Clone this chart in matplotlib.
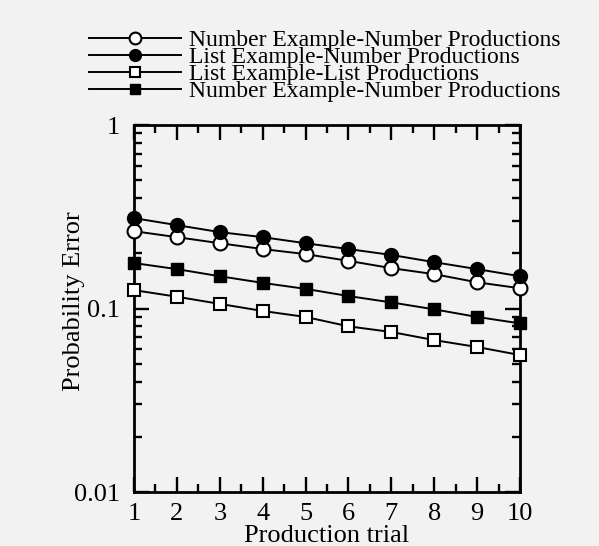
import matplotlib
matplotlib.use("Agg")
import matplotlib.pyplot as plt
from matplotlib.ticker import LogLocator, NullFormatter, FixedLocator

plt.rcParams['font.family'] = ['Liberation Serif', 'DejaVu Serif']

trials = [1, 2, 3, 4, 5, 6, 7, 8, 9, 10]
num_ex_num_prod = [0.264, 0.245, 0.227, 0.211, 0.198, 0.182, 0.166, 0.154, 0.139, 0.129]
list_ex_num_prod = [0.311, 0.285, 0.261, 0.245, 0.227, 0.211, 0.196, 0.179, 0.164, 0.150]
list_ex_list_prod = [0.126, 0.116, 0.106, 0.097, 0.090, 0.080, 0.0745, 0.0673, 0.0617, 0.0558]
num_ex_num_prod2 = [0.177, 0.164, 0.150, 0.138, 0.128, 0.117, 0.108, 0.099, 0.090, 0.083]

labels = ["Number Example-Number Productions",
          "List Example-Number Productions",
          "List Example-List Productions",
          "Number Example-Number Productions"]
x_ticklabels = ["1", "2", "3", "4", "5", "6", "7", "8", "9", "10"]
y_ticks = [0.01, 0.1, 1]
y_ticklabels = ["0.01", "0.1", "1"]

bg = '#f2f2f2'
fig = plt.figure(figsize=(5.99, 5.46), dpi=100, facecolor=bg)
ax = fig.add_axes([0.2237, 0.0989, 0.6444, 0.672])
ax.set_facecolor(bg)

lw = 1.4
ms_c = 10
ms_s = 8.8
h1, = ax.plot(trials, num_ex_num_prod, '-o', color='black', mfc='white', mec='black', mew=1.5, ms=ms_c, lw=lw, label=labels[0], clip_on=False, zorder=3)
h2, = ax.plot(trials, list_ex_num_prod, '-o', color='black', mfc='black', mec='black', ms=ms_c, lw=lw, label=labels[1], clip_on=False, zorder=3)
h3, = ax.plot(trials, list_ex_list_prod, '-s', color='black', mfc='white', mec='black', mew=1.5, ms=ms_s, lw=lw, label=labels[2], clip_on=False, zorder=3)
h4, = ax.plot(trials, num_ex_num_prod2, '-s', color='black', mfc='black', mec='black', ms=ms_s, lw=lw, label=labels[3], clip_on=False, zorder=3)

ax.set_yscale('log')
ax.set_ylim(0.01, 1)
ax.set_xlim(1, 10)
ax.set_yticks(y_ticks)
ax.set_yticklabels(y_ticklabels)
ax.yaxis.set_minor_locator(LogLocator(base=10, subs=range(2, 10)))
ax.yaxis.set_minor_formatter(NullFormatter())
ax.set_xticks(trials)
ax.set_xticklabels(x_ticklabels)
ax.xaxis.set_minor_locator(FixedLocator([t + 0.5 for t in trials[:-1]]))

for s in ax.spines.values():
    s.set_linewidth(2.0)
ax.tick_params(which='both', direction='in', top=True, right=True, width=1.7, labelsize=19)
ax.tick_params(which='major', length=11)
ax.tick_params(which='minor', length=6)
ax.tick_params(axis='x', pad=8)
ax.tick_params(axis='y', pad=10)

ax.set_xlabel("Production trial", fontsize=19, labelpad=0)
ax.set_ylabel("Probability Error", fontsize=19)
ax.yaxis.set_label_coords(-0.126, 0.52)

leg = fig.legend(handles=[h1, h2, h3, h4], loc='upper left', bbox_to_anchor=(0.132, 0.963),
                 frameon=False, fontsize=17, handlelength=3.9, handletextpad=0.34,
                 labelspacing=-0.19, borderaxespad=0, markerscale=0.85)

fig.savefig("out.png", dpi=100, facecolor=bg)
